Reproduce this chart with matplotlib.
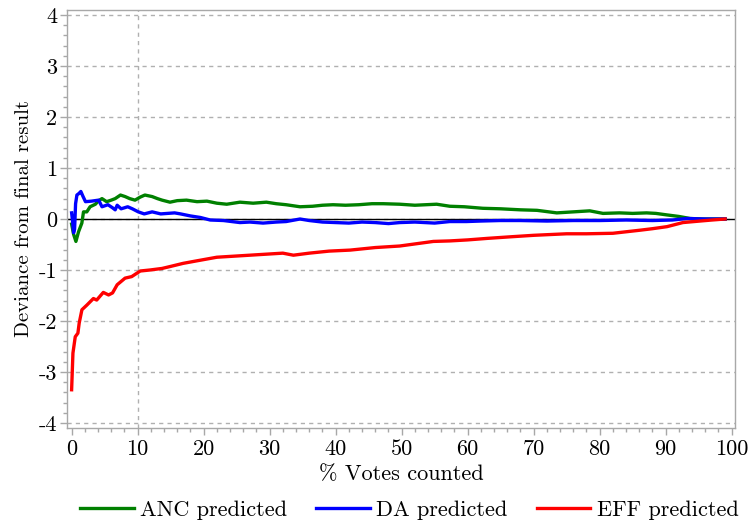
import numpy as np
import matplotlib
matplotlib.use("Agg")
import matplotlib.pyplot as plt
from matplotlib.ticker import MultipleLocator, FixedLocator, FixedFormatter

plt.rcParams['font.family'] = ['cmr10', 'DejaVu Serif']
plt.rcParams['axes.unicode_minus'] = False
plt.rcParams['font.size'] = 16

# Dados
anc_x = [0, 0.3, 0.65, 1.05, 1.55, 1.8, 2.3, 2.8, 3.6, 4.1, 4.6, 5.3, 6.0, 6.6, 7.4,
         8.1, 8.8, 9.6, 10.4, 11.1, 12.2, 13.0, 13.7, 14.9, 16.0, 17.4, 19.0, 20.5,
         22.0, 23.5, 25.5, 27.5, 29.5, 31.0, 32.5, 34.6, 36.5, 38.0, 39.6, 41.5, 43.5,
         45.5, 47.2, 49.7, 52.0, 55.3, 57.3, 59.5, 62.3, 65.0, 68.0, 70.5, 73.5, 76.0,
         78.5, 80.5, 83.0, 85.0, 87.1, 88.5, 90.2, 92.0, 93.7, 95.5, 97.5, 99.0]
anc_y = [-0.1, -0.3, -0.44, -0.25, -0.08, 0.14, 0.14, 0.24, 0.29, 0.36, 0.40, 0.34,
         0.37, 0.40, 0.47, 0.44, 0.40, 0.37, 0.43, 0.47, 0.44, 0.40, 0.37, 0.33, 0.36,
         0.37, 0.34, 0.35, 0.31, 0.29, 0.33, 0.31, 0.33, 0.30, 0.28, 0.24, 0.25, 0.27,
         0.28, 0.27, 0.28, 0.30, 0.30, 0.29, 0.27, 0.29, 0.25, 0.24, 0.21, 0.20, 0.18,
         0.17, 0.12, 0.14, 0.16, 0.11, 0.12, 0.11, 0.12, 0.11, 0.08, 0.05, 0.01, 0.0,
         0.0, 0.0]

da_x = [0, 0.15, 0.3, 0.45, 0.6, 0.8, 1.1, 1.4, 1.7, 2.1, 3.0, 4.1, 4.6, 5.5, 6.2,
        6.6, 6.9, 7.5, 8.5, 9.2, 10.1, 11.0, 12.2, 13.5, 15.6, 16.5, 18.0, 19.5, 21.0,
        23.0, 25.5, 27.0, 29.0, 31.0, 32.5, 34.6, 36.0, 38.0, 40.0, 42.0, 44.0, 46.0,
        48.0, 49.7, 52.0, 55.0, 57.3, 59.8, 62.0, 64.9, 68.0, 72.0, 76.0, 80.0, 84.0,
        88.0, 91.0, 93.2, 96.0, 99.0]
da_y = [0.12, -0.05, -0.27, -0.2, 0.3, 0.47, 0.5, 0.54, 0.45, 0.34, 0.35, 0.37, 0.24,
        0.28, 0.22, 0.18, 0.27, 0.2, 0.24, 0.2, 0.14, 0.10, 0.14, 0.10, 0.12, 0.10,
        0.06, 0.03, -0.02, -0.03, -0.07, -0.06, -0.08, -0.06, -0.05, 0.0, -0.03, -0.06,
        -0.07, -0.08, -0.06, -0.07, -0.09, -0.07, -0.06, -0.08, -0.05, -0.05, -0.04,
        -0.03, -0.03, -0.04, -0.03, -0.03, -0.02, -0.03, -0.02, 0.01, 0.0, 0.0]

eff_x = [0, 0.2, 0.55, 0.95, 1.15, 1.56, 2.3, 3.3, 3.8, 4.8, 5.6, 6.2, 6.9, 8.1, 9.1,
         10.4, 11.9, 13.7, 15.0, 16.9, 19.0, 22.0, 24.5, 27.0, 29.5, 32.0, 33.6, 36.0,
         39.0, 42.2, 46.0, 49.7, 54.8, 57.3, 60.0, 63.0, 66.4, 70.0, 75.0, 78.0, 82.0,
         86.1, 88.0, 90.2, 92.6, 95.2, 97.0, 99.0]
eff_y = [-3.35, -2.63, -2.31, -2.24, -2.04, -1.78, -1.69, -1.56, -1.59, -1.44, -1.49,
         -1.45, -1.29, -1.16, -1.13, -1.02, -1.0, -0.97, -0.93, -0.87, -0.82, -0.75,
         -0.73, -0.71, -0.69, -0.67, -0.71, -0.67, -0.63, -0.61, -0.56, -0.53, -0.44,
         -0.43, -0.41, -0.38, -0.35, -0.32, -0.29, -0.29, -0.28, -0.22, -0.19, -0.15,
         -0.07, -0.04, -0.02, 0.0]

x_ticks = [0, 10, 20, 30, 40, 50, 60, 70, 80, 90, 100]
y_ticks = [-4, -3, -2, -1, 0, 1, 2, 3, 4]
y_labels = ["-4", "-3", "-2", "-1", "0", "1", "2", "3", "4"]

grid_col = "#b0b0b0"
spine_col = "#a8a8a8"

fig = plt.figure(figsize=(7.52, 5.25), dpi=100)
ax = fig.add_axes([67 / 752, 1 - 428 / 525, (735 - 67) / 752, (428 - 10) / 525])

# grade: horizontais em cada inteiro, vertical só em x=10
for yv in y_ticks:
    ax.axhline(yv, color=grid_col, lw=1, ls=(0, (3, 3)), zorder=0)
ax.axvline(10, color=grid_col, lw=1, ls=(0, (3, 3)), zorder=0)
ax.axhline(0, color="black", lw=1, zorder=1)

ax.plot(anc_x, anc_y, color="#008000", lw=2.4, label="ANC predicted", zorder=3)
ax.plot(da_x, da_y, color="#0000ff", lw=2.4, label="DA predicted", zorder=3)
ax.plot(eff_x, eff_y, color="#ff0000", lw=2.4, label="EFF predicted", zorder=3)

ax.set_xlim(-0.7, 100.5)
ax.set_ylim(-4.1, 4.1)
ax.xaxis.set_major_locator(FixedLocator(x_ticks))
ax.xaxis.set_minor_locator(MultipleLocator(2))
ax.yaxis.set_major_locator(FixedLocator(y_ticks))
ax.yaxis.set_major_formatter(FixedFormatter(y_labels))
ax.yaxis.set_minor_locator(MultipleLocator(0.2))

for s in ax.spines.values():
    s.set_color(spine_col)
    s.set_linewidth(1)
ax.tick_params(which="major", color=spine_col, length=5, width=1, labelsize=16)
ax.tick_params(which="minor", color=spine_col, length=3, width=1)
ax.tick_params(axis="x", pad=3)
ax.tick_params(axis="y", pad=2)

ax.set_xlabel("% Votes counted", fontsize=16, labelpad=4)
ax.set_ylabel("Deviance from final result", fontsize=15, labelpad=4)

fig.legend(loc="center", bbox_to_anchor=(409.5 / 752, 1 - 510 / 525), ncol=3,
           frameon=False, fontsize=16, handlelength=2.4, handletextpad=0.3,
           columnspacing=1.3)

fig.savefig("out.png", dpi=100)
